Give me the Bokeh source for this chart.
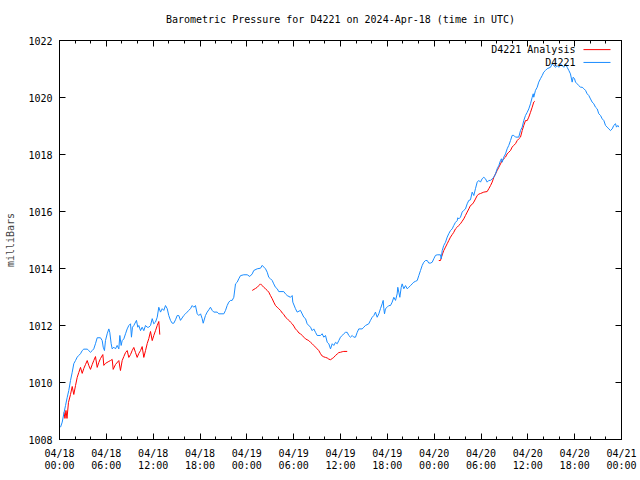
from bokeh.plotting import figure
from bokeh.models import Range1d, FixedTicker, LinearAxis, Label
from bokeh.embed import file_html
from bokeh.resources import INLINE

TITLE = "Barometric Pressure for D4221 on 2024-Apr-18 (time in UTC)"
Y_LABEL = "milliBars"
SERIES_NAMES = ["D4221 Analysis", "D4221"]

# x values are hours since 2024-04-18 00:00 UTC
tick_hours = [0, 6, 12, 18, 24, 30, 36, 42, 48, 54, 60, 66, 72]
tick_labels = ["04/18\n00:00", "04/18\n06:00", "04/18\n12:00", "04/18\n18:00",
               "04/19\n00:00", "04/19\n06:00", "04/19\n12:00", "04/19\n18:00",
               "04/20\n00:00", "04/20\n06:00", "04/20\n12:00", "04/20\n18:00",
               "04/21\n00:00"]
y_ticks = [1008, 1010, 1012, 1014, 1016, 1018, 1020, 1022]

station_hours = [0.13, 0.35, 0.55, 0.77, 0.99, 1.19, 1.41, 1.63, 1.83, 2.05, 2.27, 2.47, 2.69, 2.91, 3.11, 3.55, 3.75, 3.97, 4.19, 4.39,
    4.61, 4.83, 5.25, 5.47, 5.60, 5.76, 5.89, 6.11, 6.32, 6.44, 6.62, 6.75, 6.96, 7.17, 7.39, 7.60, 7.73, 7.90, 8.03, 8.24,
    8.46, 8.67, 8.88, 9.10, 9.22, 9.35, 9.52, 9.86, 10.03, 10.16, 10.38, 10.59, 10.80, 11.02, 11.24, 11.44, 11.66, 11.88, 12.08, 12.30,
    12.52, 12.72, 12.94, 13.16, 13.36, 13.58, 13.80, 14.00, 14.22, 14.44, 14.64, 14.86, 15.08, 15.28, 15.50, 15.92, 16.14, 16.36, 16.56, 16.78,
    17.00, 17.21, 17.42, 17.64, 17.85, 18.07, 18.28, 18.41, 18.70, 18.92, 19.13, 19.34, 19.56, 19.77, 20.20, 20.41, 21.05, 21.27, 21.48, 21.69,
    21.91, 22.12, 22.33, 22.55, 22.77, 22.97, 23.19, 23.61, 24.05, 24.38, 24.69, 24.89, 25.33, 25.75, 25.97, 26.17, 26.39, 26.61, 26.81, 27.03,
    27.25, 27.45, 27.67, 27.89, 28.09, 28.73, 28.95, 29.17, 29.59, 29.81, 29.89, 30.23, 30.45, 30.87, 31.30, 31.52, 31.73, 32.16, 32.37, 32.58,
    32.80, 33.01, 33.44, 33.65, 33.86, 34.08, 34.30, 34.50, 34.72, 34.94, 35.14, 35.36, 35.58, 35.78, 36.00, 36.22, 36.42, 36.64, 36.86, 37.06,
    37.28, 37.50, 37.70, 37.92, 38.14, 38.34, 38.78, 38.98, 39.20, 39.62, 39.84, 40.06, 40.27, 40.48, 40.70, 40.91, 41.12, 41.34, 41.47, 41.55,
    41.64, 41.76, 41.98, 42.19, 42.40, 42.62, 42.83, 43.05, 43.26, 43.34, 43.47, 43.60, 43.78, 43.90, 44.11, 44.33, 44.54, 44.75, 44.97, 45.18,
    45.39, 45.61, 45.83, 46.03, 46.25, 46.47, 46.67, 46.89, 47.11, 47.31, 47.53, 47.75, 47.95, 48.17, 48.39, 48.81, 48.90, 49.03, 49.23, 49.45,
    49.67, 49.87, 50.09, 50.31, 50.51, 50.73, 50.95, 51.03, 51.15, 51.37, 51.59, 51.79, 52.01, 52.23, 52.44, 52.65, 52.87, 53.08, 53.29, 53.51,
    53.72, 53.93, 54.15, 54.36, 54.57, 54.79, 55.00, 55.22, 55.43, 55.64, 55.86, 56.07, 56.28, 56.50, 56.62, 56.72, 56.92, 57.14, 57.35, 57.56,
    57.78, 57.99, 58.20, 58.42, 58.84, 59.06, 59.28, 59.48, 59.70, 59.92, 60.12, 60.34, 60.56, 60.69, 60.76, 60.98, 61.20, 61.40, 61.62, 61.84,
    62.04, 62.26, 62.48, 62.90, 63.12, 63.54, 63.76, 63.97, 64.18, 64.40, 64.61, 64.82, 65.04, 65.25, 65.46, 65.68, 65.81, 65.98, 66.11, 66.32,
    66.53, 66.74, 66.96, 67.17, 67.39, 67.60, 67.81, 68.03, 68.24, 68.45, 68.67, 68.89, 69.09, 69.31, 69.53, 69.74, 69.95, 70.17, 70.37, 70.59,
    70.81, 71.01, 71.23, 71.36, 71.53, 71.65]
station_mb = [1008.43, 1008.61, 1008.90, 1009.19, 1009.48, 1009.72, 1010.07, 1010.36, 1010.66, 1010.77, 1010.89, 1010.95, 1011.01, 1011.12, 1011.17, 1011.17, 1011.12, 1011.06, 1011.12, 1011.18,
    1011.36, 1011.57, 1011.57, 1011.47, 1011.24, 1011.12, 1011.47, 1011.71, 1011.88, 1011.76, 1011.36, 1011.18, 1011.24, 1011.18, 1011.30, 1011.18, 1011.65, 1011.30, 1011.47, 1011.53,
    1011.71, 1011.88, 1012.00, 1012.06, 1011.59, 1011.94, 1012.00, 1012.18, 1011.94, 1012.00, 1011.82, 1011.94, 1011.82, 1012.00, 1011.94, 1011.94, 1012.00, 1012.24, 1012.06, 1012.12,
    1012.29, 1012.64, 1012.47, 1012.59, 1012.53, 1012.70, 1012.59, 1012.35, 1012.18, 1012.08, 1012.08, 1012.20, 1012.35, 1012.35, 1012.18, 1012.35, 1012.41, 1012.47, 1012.53, 1012.59,
    1012.70, 1012.64, 1012.70, 1012.41, 1012.35, 1012.41, 1012.24, 1012.08, 1012.35, 1012.47, 1012.55, 1012.64, 1012.53, 1012.47, 1012.47, 1012.41, 1012.41, 1012.53, 1012.70, 1012.82,
    1012.88, 1012.88, 1012.99, 1013.46, 1013.52, 1013.64, 1013.75, 1013.78, 1013.78, 1013.72, 1013.81, 1013.93, 1013.99, 1014.01, 1014.11, 1014.05, 1013.99, 1013.87, 1013.69, 1013.64,
    1013.58, 1013.46, 1013.34, 1013.29, 1013.19, 1013.19, 1013.11, 1013.05, 1012.99, 1013.05, 1012.82, 1012.59, 1012.47, 1012.53, 1012.29, 1012.24, 1012.06, 1011.94, 1011.82, 1011.88,
    1011.76, 1011.65, 1011.65, 1011.71, 1011.59, 1011.65, 1011.41, 1011.36, 1011.18, 1011.36, 1011.30, 1011.41, 1011.36, 1011.47, 1011.59, 1011.65, 1011.71, 1011.76, 1011.76, 1011.65,
    1011.59, 1011.65, 1011.59, 1011.59, 1011.76, 1011.88, 1011.88, 1011.94, 1012.00, 1012.06, 1012.18, 1012.29, 1012.35, 1012.47, 1012.29, 1012.41, 1012.59, 1012.76, 1012.88, 1012.59,
    1012.41, 1012.59, 1012.64, 1012.70, 1012.70, 1012.82, 1012.99, 1012.88, 1013.11, 1013.34, 1013.17, 1012.99, 1013.34, 1013.46, 1013.29, 1013.40, 1013.29, 1013.34, 1013.40, 1013.46,
    1013.52, 1013.55, 1013.58, 1013.75, 1013.93, 1014.11, 1014.22, 1014.28, 1014.28, 1014.19, 1014.19, 1014.22, 1014.34, 1014.46, 1014.48, 1014.48, 1014.34, 1014.63, 1014.81, 1014.92,
    1015.10, 1015.22, 1015.33, 1015.39, 1015.51, 1015.62, 1015.68, 1015.78, 1015.74, 1015.80, 1015.98, 1016.04, 1016.09, 1016.27, 1016.39, 1016.41, 1016.68, 1016.56, 1016.80, 1017.03,
    1017.09, 1017.03, 1017.15, 1017.20, 1017.15, 1017.03, 1017.09, 1017.09, 1017.15, 1017.20, 1017.32, 1017.50, 1017.61, 1017.79, 1017.85, 1017.73, 1017.91, 1018.02, 1018.20, 1018.32,
    1018.49, 1018.67, 1018.67, 1018.61, 1018.61, 1018.84, 1018.96, 1019.19, 1019.37, 1019.48, 1019.60, 1019.78, 1020.01, 1020.13, 1020.01, 1020.25, 1020.36, 1020.54, 1020.66, 1020.77,
    1020.89, 1020.95, 1021.01, 1021.06, 1021.18, 1021.06, 1021.12, 1021.06, 1021.18, 1021.12, 1021.06, 1021.18, 1021.06, 1020.95, 1020.83, 1020.54, 1020.71, 1020.66, 1020.54, 1020.48,
    1020.42, 1020.36, 1020.36, 1020.31, 1020.25, 1020.13, 1020.07, 1019.95, 1019.84, 1019.78, 1019.66, 1019.60, 1019.43, 1019.37, 1019.25, 1019.19, 1019.02, 1018.96, 1018.90, 1018.84,
    1018.90, 1019.02, 1019.08, 1018.96, 1019.02, 1018.96]

analysis1_hours = [0.58, 0.70, 0.83, 0.96, 1.15, 1.41, 1.63, 1.83, 2.05, 2.27, 2.47, 2.69, 2.91, 3.11, 3.33, 3.55, 3.75, 3.97, 4.19, 4.39,
    4.61, 4.83, 5.03, 5.25, 5.55, 5.68, 5.89, 6.32, 6.53, 6.75, 6.88, 7.17, 7.60, 7.81, 8.03, 8.24, 8.46, 8.67, 8.88, 9.10,
    9.31, 9.52, 9.74, 9.95, 10.16, 10.38, 10.59, 10.80, 11.02, 11.24, 11.44, 11.66, 11.88, 12.08, 12.30, 12.52, 12.72, 12.85]
analysis1_mb = [1008.95, 1008.74, 1009.02, 1008.74, 1009.30, 1009.58, 1009.86, 1009.58, 1009.89, 1010.18, 1010.35, 1010.53, 1010.32, 1010.49, 1010.63, 1010.77, 1010.60, 1010.46, 1010.63, 1010.77,
    1010.91, 1010.53, 1010.70, 1010.84, 1010.98, 1010.60, 1010.67, 1010.74, 1010.77, 1010.81, 1010.46, 1010.63, 1010.77, 1010.42, 1010.77, 1010.91, 1011.05, 1011.12, 1010.88, 1010.98,
    1011.12, 1011.23, 1011.05, 1010.88, 1011.02, 1011.12, 1011.26, 1010.88, 1011.12, 1011.37, 1011.54, 1011.79, 1011.47, 1011.65, 1011.82, 1012.00, 1012.14, 1011.68]

analysis2_hours = [24.69, 25.11, 25.33, 25.53, 25.75, 25.97, 26.17, 26.39, 26.61, 26.81, 27.03, 27.25, 27.45, 27.67, 27.89, 28.09, 28.31, 28.53, 28.73, 28.95,
    29.17, 29.38, 29.59, 29.81, 30.02, 30.23, 30.45, 30.66, 30.87, 31.09, 31.30, 31.52, 31.73, 31.94, 32.16, 32.37, 32.58, 32.80, 33.01, 33.22,
    33.44, 33.65, 33.86, 34.08, 34.30, 34.50, 34.72, 34.94, 35.14, 35.36, 35.58, 35.78, 36.00, 36.22, 36.42, 36.86]
analysis2_mb = [1013.23, 1013.30, 1013.34, 1013.40, 1013.46, 1013.40, 1013.34, 1013.29, 1013.23, 1013.17, 1013.05, 1012.94, 1012.82, 1012.70, 1012.64, 1012.59, 1012.53, 1012.44, 1012.39, 1012.29,
    1012.24, 1012.18, 1012.12, 1012.06, 1011.98, 1011.88, 1011.82, 1011.74, 1011.71, 1011.65, 1011.59, 1011.53, 1011.50, 1011.47, 1011.41, 1011.36, 1011.30, 1011.24, 1011.18, 1011.12,
    1011.01, 1010.93, 1010.90, 1010.88, 1010.86, 1010.82, 1010.80, 1010.84, 1010.88, 1010.95, 1011.00, 1011.05, 1011.06, 1011.08, 1011.09, 1011.09]

analysis3_hours = [48.59, 48.81, 48.94, 49.07, 49.23, 49.45, 49.67, 49.87, 50.09, 50.31, 50.51, 50.73, 50.95, 51.15, 51.37, 51.59, 51.79, 52.01, 52.23, 52.44,
    52.65, 52.87, 53.08, 53.29, 53.51, 53.72, 53.93, 54.36, 54.79, 55.00, 55.22, 55.43, 55.64, 55.86, 56.07, 56.28, 56.50, 56.72, 56.92, 57.14,
    57.35, 57.56, 57.78, 57.99, 58.20, 58.42, 58.64, 58.84, 59.06, 59.28, 59.48, 59.70, 59.92, 60.12, 60.34, 60.56, 60.76, 60.89]
analysis3_mb = [1014.28, 1014.28, 1014.40, 1014.51, 1014.63, 1014.75, 1014.87, 1014.98, 1015.10, 1015.19, 1015.27, 1015.39, 1015.45, 1015.51, 1015.57, 1015.66, 1015.74, 1015.86, 1015.98, 1016.09,
    1016.21, 1016.25, 1016.33, 1016.44, 1016.56, 1016.61, 1016.63, 1016.68, 1016.70, 1016.80, 1016.91, 1017.03, 1017.20, 1017.32, 1017.44, 1017.55, 1017.67, 1017.79, 1017.85, 1017.91,
    1018.02, 1018.08, 1018.14, 1018.26, 1018.32, 1018.38, 1018.49, 1018.55, 1018.61, 1018.84, 1019.02, 1019.19, 1019.19, 1019.31, 1019.48, 1019.66, 1019.84, 1019.87]

RED = "#ff0000"
BLUE = "#1a8cff"
FONT = "DejaVu Sans Mono"
FS = "10px"

p = figure(width=640, height=480, output_backend="svg", toolbar_location=None,
           x_range=Range1d(0, 72), y_range=Range1d(1008, 1022),
           min_border_left=59, min_border_right=19, min_border_top=40, min_border_bottom=41)
p.background_fill_color = "white"
p.border_fill_color = "white"
p.outline_line_color = "black"
p.outline_line_width = 1
p.xgrid.visible = False
p.ygrid.visible = False

p.title.text = TITLE
p.title.align = "center"
p.title.vertical_align = "top"
p.title.text_font = FONT
p.title.text_font_size = FS
p.title.text_font_style = "normal"
p.title.text_color = "black"
p.title.standoff = 27

x_minor = list(range(0, 73, 2))
xt = FixedTicker(ticks=tick_hours, minor_ticks=x_minor)
yt = FixedTicker(ticks=y_ticks, minor_ticks=[])

def style(ax):
    ax.axis_line_color = "black"
    ax.major_tick_line_color = "black"
    ax.minor_tick_line_color = "black"
    ax.major_tick_in = 6
    ax.major_tick_out = 0
    ax.minor_tick_in = 3
    ax.minor_tick_out = 0
    ax.major_label_text_font = FONT
    ax.major_label_text_font_size = FS
    ax.major_label_text_color = "black"

xa = p.xaxis[0]
xa.ticker = xt
xa.major_label_overrides = {h: lab for h, lab in zip(tick_hours, tick_labels)}
style(xa)
xa.major_label_standoff = 8
xa.major_label_text_line_height = 1.1

ya = p.yaxis[0]
ya.ticker = yt
style(ya)
ya.major_label_standoff = 7
ya.axis_label = Y_LABEL
ya.axis_label_text_font = FONT
ya.axis_label_text_font_size = FS
ya.axis_label_text_font_style = "normal"
ya.axis_label_standoff = 9

# mirrored tick marks on top and right, without labels
top = LinearAxis(ticker=FixedTicker(ticks=tick_hours, minor_ticks=x_minor))
style(top)
top.major_label_overrides = {h: "" for h in tick_hours}
top.major_label_standoff = 0
p.add_layout(top, "above")
right = LinearAxis(ticker=FixedTicker(ticks=y_ticks, minor_ticks=[]))
style(right)
right.major_label_overrides = {v: "" for v in y_ticks}
right.major_label_standoff = 0
p.add_layout(right, "right")

for hs, vs in [(analysis1_hours, analysis1_mb), (analysis2_hours, analysis2_mb), (analysis3_hours, analysis3_mb)]:
    p.line(hs, vs, line_color=RED, line_width=1)
p.line(station_hours, station_mb, line_color=BLUE, line_width=1)

# legend, gnuplot style: text right-aligned, line sample to the right
for name, color, ly in [(SERIES_NAMES[0], RED, 1021.68), (SERIES_NAMES[1], BLUE, 1021.23)]:
    p.add_layout(Label(x=66.1, y=ly, text=name, text_align="right", text_baseline="middle",
                       text_font=FONT, text_font_size=FS, text_color="black"))
    p.segment(x0=[67.13], y0=[ly], x1=[70.59], y1=[ly], line_color=color, line_width=1)

open("out.html", "w").write(file_html(p, INLINE))
